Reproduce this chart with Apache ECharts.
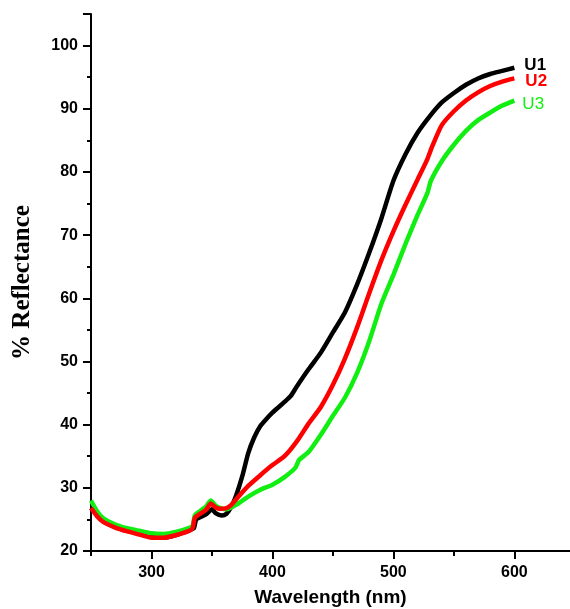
<!DOCTYPE html>
<html>
<head>
<meta charset="utf-8">
<script src="https://cdn.jsdelivr.net/npm/echarts@6/dist/echarts.min.js"></script>
<style>
html,body{margin:0;padding:0;background:#fff;}
#chart{width:570px;height:609px;}
</style>
</head>
<body>
<div id="chart"></div>
<script>
// Wavelength (nm) and % reflectance
var wlU1 = [250,255,260,270,280,290,300,310,320,330,335,337,345,350,353,358,362,366,370,375,380,385,390,395,400,410,415,420,430,440,450,460,470,480,490,500,510,520,530,540,550,560,570,580,590,600];
var valU1 = [26.8,25.8,24.9,23.9,23.2,22.8,22.3,22.1,22.5,23.2,23.6,25.0,25.8,26.6,26.0,25.6,25.9,27.0,28.8,31.8,35.5,38.0,39.8,40.9,41.9,43.6,44.5,46.0,48.8,51.4,54.6,57.8,62.2,67.2,72.6,78.6,82.8,86.2,88.8,91.0,92.5,93.8,94.8,95.5,96.0,96.5];

var wlU2 = [250,255,260,270,280,290,300,310,320,330,334,336,345,349,353,357,362,366,370,380,390,400,410,420,430,440,450,460,470,480,490,500,510,520,528,532,540,550,560,570,580,590,600];
var valU2 = [26.8,25.5,24.6,23.7,23.1,22.6,22.1,22.1,22.5,23.1,23.6,25.3,26.5,27.5,26.9,26.7,26.8,27.3,28.2,30.3,32.0,33.6,35.0,37.3,40.2,42.8,46.3,50.5,55.4,60.8,66.0,70.6,74.8,78.8,82.0,84.0,87.4,89.6,91.3,92.6,93.6,94.3,94.8];

var wlU3 = [250,255,260,270,280,290,300,310,320,330,334,336,345,349,353,357,362,370,380,390,400,410,419,422,430,440,450,460,470,480,490,500,510,520,528,531,540,550,560,570,580,590,600];
var valU3 = [28.0,26.3,25.2,24.2,23.6,23.2,22.8,22.7,23.0,23.6,24.0,25.7,27.0,28.0,27.2,26.8,26.6,27.3,28.6,29.7,30.5,31.7,33.2,34.4,35.7,38.4,41.4,44.3,48.2,53.2,59.1,63.7,68.6,73.2,76.6,78.6,81.7,84.3,86.5,88.2,89.4,90.5,91.3];

var xMajorTicks = [300,400,500,600];
var xMinorTicks = [250,350,450,550];

function pairs(xs, ys){ return xs.map(function(x,i){ return [x, ys[i]]; }); }

var chart = echarts.init(document.getElementById('chart'), null, {renderer:'canvas'});
var font = 'Liberation Sans, Arial, sans-serif';

function mkSeries(name, xs, ys, color, bold, offset, z){
  return {
    name: name, type: 'line', xAxisIndex: 0, yAxisIndex: 0,
    data: pairs(xs, ys), showSymbol: false, smooth: 0.2, z: z,
    lineStyle: {color: color, width: 4.5},
    itemStyle: {color: color},
    animation: false,
    endLabel: {
      show: true, formatter: name, color: color,
      fontFamily: font, fontWeight: bold ? 'bold' : 'normal', fontSize: 17,
      distance: 8, offset: offset
    }
  };
}

chart.setOption({
  animation: false,
  backgroundColor: '#fff',
  grid: {left: 91, top: 14, right: 0, bottom: 58, containLabel: false, outerBoundsMode: 'none'},
  xAxis: [{
    type: 'value', min: 250, max: 646, position: 'bottom',
    axisLine: {show: true, lineStyle: {color: '#000', width: 2}},
    axisTick: {show: true, customValues: xMajorTicks, length: 8, inside: false, lineStyle: {color: '#000', width: 2}},
    axisLabel: {show: true, customValues: xMajorTicks, color: '#000', fontFamily: font, fontWeight: 'bold', fontSize: 16, margin: 14},
    splitLine: {show: false},
    name: 'Wavelength (nm)', nameLocation: 'middle', nameGap: 37,
    nameTextStyle: {color: '#000', fontFamily: font, fontWeight: 'bold', fontSize: 19}
  },{
    type: 'value', min: 250, max: 646, position: 'bottom',
    axisLine: {show: false},
    axisTick: {show: true, customValues: xMinorTicks, length: 5, lineStyle: {color: '#000', width: 2}},
    axisLabel: {show: false},
    splitLine: {show: false}
  }],
  yAxis: {
    type: 'value', min: 20, max: 105, interval: 10,
    axisLine: {show: true, lineStyle: {color: '#000', width: 2}},
    axisTick: {show: true, length: 8, lineStyle: {color: '#000', width: 2}},
    minorTick: {show: true, splitNumber: 2, length: 4, lineStyle: {color: '#000', width: 2}},
    axisLabel: {color: '#000', fontFamily: font, fontWeight: 'bold', fontSize: 16, margin: 13, showMaxLabel: false},
    splitLine: {show: false},
    name: '% Reflectance', nameLocation: 'middle', nameGap: 56, nameRotate: 90,
    nameTextStyle: {color: '#000', fontFamily: 'Liberation Serif, Times New Roman, serif', fontWeight: 'bold', fontSize: 25}
  },
  series: [
    mkSeries('U1', wlU1, valU1, '#000000', true, [2,-2], 2),
    mkSeries('U3', wlU3, valU3, '#11ee11', false, [0,4], 3),
    mkSeries('U2', wlU2, valU2, '#ff0000', true, [3,3], 4)
  ]
});
</script>
</body>
</html>
